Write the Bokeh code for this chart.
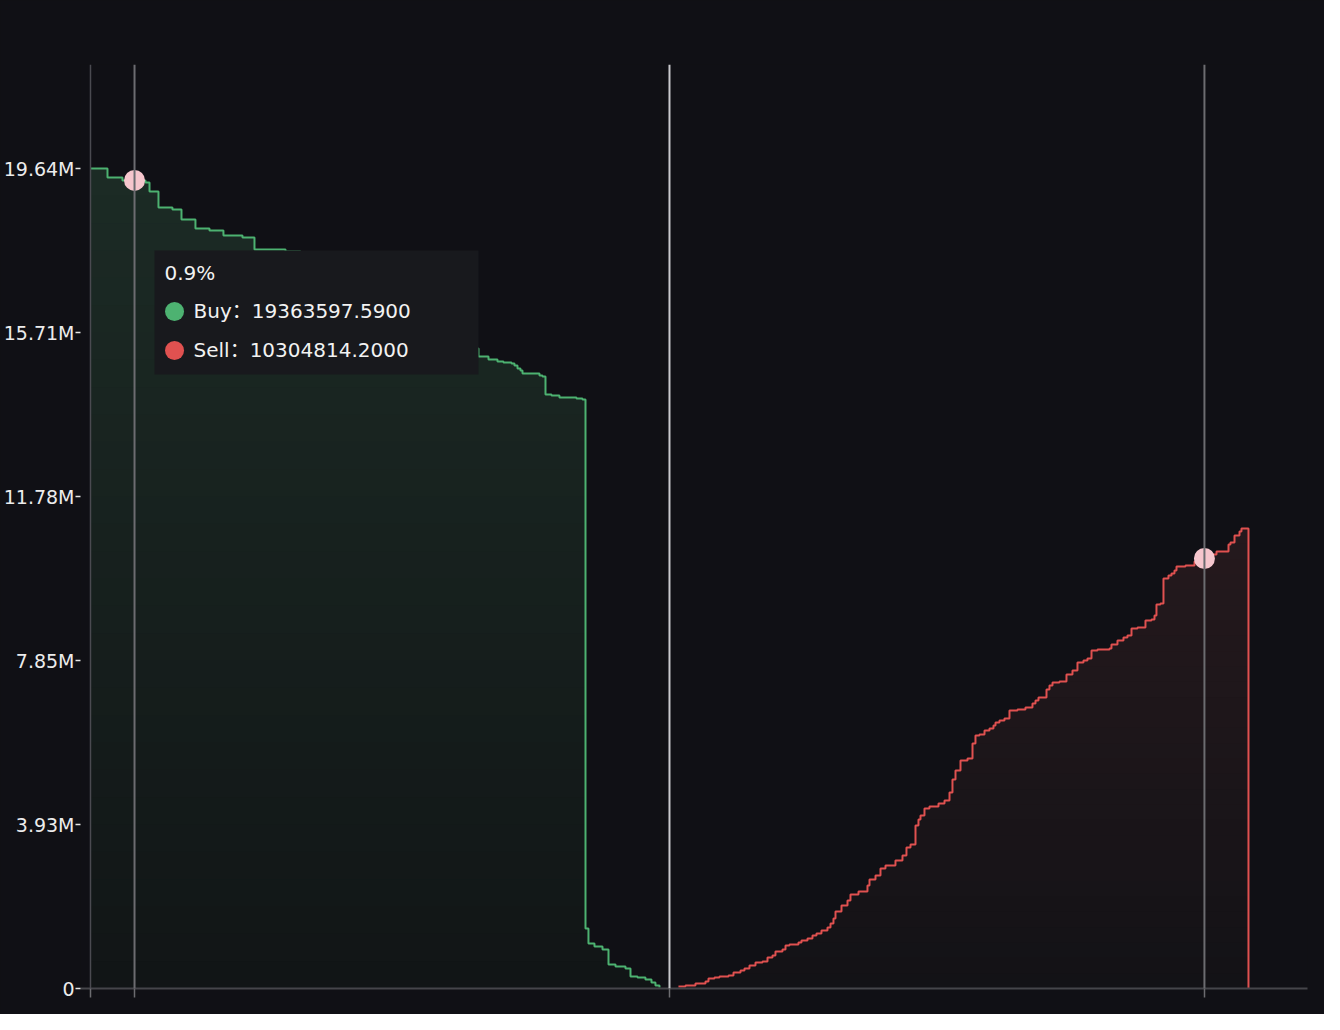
import numpy as np
from bokeh.plotting import figure
from bokeh.models import Range1d, Span, FixedTicker
from bokeh.core.properties import value
from bokeh.embed import file_html
from bokeh.resources import INLINE

# ---------------- data ----------------
# price offset from mid price (%) and cumulative depth (millions)
buy_pct = [-0.9741, -0.9455, -0.9203, -0.8816, -0.8748, -0.8597, -0.8362, -0.8210, -0.7975, -0.7739,
           -0.7504, -0.7184, -0.6982, -0.6460, -0.6208, -0.5973, -0.5703, -0.5468, -0.5199, -0.4929,
           -0.4660, -0.4391, -0.4122, -0.3853, -0.3617, -0.3382, -0.3213, -0.3045, -0.2894, -0.2793,
           -0.2658, -0.2608, -0.2557, -0.2507, -0.2473, -0.2187, -0.2137, -0.2086, -0.1985, -0.1851,
           -0.1565, -0.1464, -0.1413, -0.1363, -0.1262, -0.1127, -0.1026, -0.0908, -0.0740, -0.0656,
           -0.0538, -0.0404, -0.0303, -0.0236, -0.0168]
buy_depth = [19.650, 19.435, 19.36359759, 19.315, 19.099, 18.716, 18.668, 18.428, 18.213, 18.165,
             18.045, 17.997, 17.709, 17.661, 17.494, 17.374, 17.182, 17.038, 16.871, 16.655,
             16.463, 16.248, 16.032, 15.792, 15.553, 15.337, 15.145, 15.073, 15.025, 15.001,
             14.978, 14.930, 14.858, 14.810, 14.738, 14.690, 14.666, 14.235, 14.211, 14.163,
             14.139, 14.115, 1.438, 1.078, 1.006, 0.935, 0.575, 0.527, 0.479, 0.288,
             0.264, 0.216, 0.144, 0.072, 0.024]

sell_pct = [0.0151, 0.0269, 0.0437, 0.0606, 0.0656, 0.0757, 0.0841, 0.0993, 0.1077, 0.1195,
            0.1262, 0.1346, 0.1447, 0.1565, 0.1649, 0.1733, 0.1783, 0.1901, 0.1952, 0.2019,
            0.2170, 0.2221, 0.2322, 0.2406, 0.2473, 0.2557, 0.2658, 0.2709, 0.2759, 0.2793,
            0.2894, 0.2995, 0.3045, 0.3180, 0.3331, 0.3365, 0.3466, 0.3550, 0.3634, 0.3802,
            0.3920, 0.3987, 0.4055, 0.4139, 0.4189, 0.4223, 0.4290, 0.4374, 0.4526, 0.4627,
            0.4711, 0.4761, 0.4812, 0.4896, 0.5014, 0.5098, 0.5148, 0.5215, 0.5300, 0.5384,
            0.5451, 0.5485, 0.5552, 0.5636, 0.5720, 0.5855, 0.5989, 0.6107, 0.6158, 0.6208,
            0.6343, 0.6393, 0.6444, 0.6561, 0.6679, 0.6780, 0.6864, 0.6965, 0.7032, 0.7100,
            0.7201, 0.7403, 0.7436, 0.7537, 0.7638, 0.7705, 0.7773, 0.7874, 0.8008, 0.8109,
            0.8160, 0.8193, 0.8260, 0.8311, 0.8395, 0.8446, 0.8496, 0.8530, 0.8681, 0.8833,
            0.8917, 0.9018, 0.9203, 0.9405, 0.9438, 0.9506, 0.9590, 0.9623, 0.9741]
sell_depth = [0.048, 0.072, 0.120, 0.168, 0.240, 0.264, 0.288, 0.312, 0.383, 0.431,
              0.479, 0.551, 0.623, 0.647, 0.743, 0.791, 0.887, 0.935, 1.030, 1.054,
              1.102, 1.150, 1.198, 1.270, 1.318, 1.390, 1.462, 1.558, 1.677, 1.845,
              1.989, 2.109, 2.253, 2.325, 2.468, 2.612, 2.708, 2.876, 2.948, 3.067,
              3.187, 3.379, 3.451, 3.906, 4.050, 4.146, 4.314, 4.361, 4.433, 4.505,
              4.697, 5.008, 5.224, 5.464, 5.512, 5.871, 6.063, 6.087, 6.183, 6.231,
              6.303, 6.374, 6.422, 6.470, 6.662, 6.686, 6.734, 6.830, 6.902, 6.973,
              7.165, 7.261, 7.333, 7.357, 7.525, 7.621, 7.812, 7.860, 7.908, 8.100,
              8.124, 8.148, 8.243, 8.339, 8.411, 8.459, 8.627, 8.651, 8.819, 8.843,
              8.939, 9.202, 9.226, 9.825, 9.897, 9.945, 10.017, 10.113, 10.137, 10.233,
              10.3048142, 10.400, 10.472, 10.640, 10.688, 10.856, 10.952, 11.023, 0.0]

y_ticks = [0, 3.928, 7.856, 11.784, 15.712, 19.64]
y_tick_labels = ["0", "3.93M", "7.85M", "11.78M", "15.71M", "19.64M"]

hover_label = "0.9%"
hover_pct = 0.9
hover_buy = 19363597.59
hover_sell = 10304814.20

assert len(buy_pct) == len(buy_depth)
assert len(sell_pct) == len(sell_depth)

# ---------------- style ----------------
BG = "#101015"
GREEN = "#4db271"
RED = "#e05150"
FONT = value("'DejaVu Sans', 'Noto Sans CJK SC'")

X0, X1 = -0.9909, 1.0734
Y0, Y1 = 0.0, 22.142
FW, FH = 1227, 924

p = figure(frame_width=FW, frame_height=FH, x_range=Range1d(X0, X1), y_range=Range1d(Y0, Y1),
           output_backend="svg", toolbar_location=None,
           min_border_left=80, min_border_right=17, min_border_top=64, min_border_bottom=26)
p.background_fill_color = BG
p.border_fill_color = BG
p.outline_line_color = None
p.grid.visible = False
p.styles = {"background-color": BG}

pxx = (X1 - X0) / FW
pxy = (Y1 - Y0) / FH


def hexc(c):
    return "#%02x%02x%02x" % tuple(int(round(v)) for v in c)


def gradient_area(xs, ys, top_rgb, bot_rgb, n=30):
    ys = np.array(ys, dtype=float)
    top = ys.max()
    for k in range(n - 1, -1, -1):
        hi = top * (k + 1) / n
        t = (k + 0.5) / n
        col = [b + (a - b) * t for a, b in zip(top_rgb, bot_rgb)]
        p.varea_step(x=xs, y1=np.zeros_like(ys), y2=np.minimum(ys, hi), step_mode="after",
                     fill_color=hexc(col), fill_alpha=1.0)


gradient_area(buy_pct, buy_depth, (28, 43, 37), (17, 21, 22))
gradient_area(sell_pct, sell_depth, (37, 25, 29), (19, 18, 22))

# vertical guide lines
edge = buy_pct[0]
p.add_layout(Span(location=edge, dimension="height", line_color="#4a4a50", line_width=1.5))
p.add_layout(Span(location=-hover_pct, dimension="height", line_color="#6c6c70", line_width=2))
p.add_layout(Span(location=hover_pct, dimension="height", line_color="#6c6c70", line_width=2))
p.add_layout(Span(location=0, dimension="height", line_color="#c9c9cd", line_width=2))

p.step(buy_pct, buy_depth, mode="after", line_color=GREEN, line_width=2)
p.step(sell_pct, sell_depth, mode="after", line_color=RED, line_width=2)

# hover markers
hb = hover_buy / 1e6
hs = hover_sell / 1e6
p.scatter([-hover_pct, hover_pct], [hb, hs], size=21, fill_color="#f6c6cd", line_color=None)

# tooltip
tx = -hover_pct
p.quad(left=[tx + 20 * pxx], right=[tx + 344 * pxx], top=[hb - 70 * pxy], bottom=[hb - 194 * pxy],
       fill_color="#18191d", line_color=None)
p.text(x=[tx + 30 * pxx], y=[hb - 93 * pxy], text=[hover_label], text_font=FONT,
       text_font_size="20px", text_color="#f2f2f2", text_baseline="middle", text_align="left")
p.scatter([tx + 40 * pxx, tx + 40 * pxx], [hb - 131 * pxy, hb - 170 * pxy], size=19,
          fill_color=[GREEN, RED], line_color=None)
p.text(x=[tx + 59 * pxx, tx + 59 * pxx], y=[hb - 131 * pxy, hb - 170 * pxy],
       text=["Buy\uff1a%.4f" % hover_buy, "Sell\uff1a%.4f" % hover_sell], text_font=FONT,
       text_font_size="20px", text_color="#f2f2f2", text_baseline="middle", text_align="left")

# axes
xa = p.xaxis[0]
xa.ticker = FixedTicker(ticks=[edge, -hover_pct, 0, hover_pct])
xa.axis_line_color = "#45454a"
xa.axis_line_width = 2
xa.major_tick_line_color = "#6c6c70"
xa.major_tick_line_width = 1.5
xa.major_tick_out = 9
xa.major_tick_in = 0
xa.minor_tick_line_color = None
xa.major_label_text_font_size = "0px"
xa.major_label_text_color = None

ya = p.yaxis[0]
ya.ticker = FixedTicker(ticks=y_ticks)
ya.major_label_overrides = {float(t): lab for t, lab in zip(y_ticks, y_tick_labels)}
ya.axis_line_color = None
ya.major_tick_line_color = "#e6e6e6"
ya.major_tick_line_width = 1.5
ya.major_tick_out = 5
ya.major_tick_in = 0
ya.minor_tick_line_color = None
ya.major_label_standoff = 1
ya.major_label_text_font = "DejaVu Sans"
ya.major_label_text_font_size = "19px"
ya.major_label_text_color = "#ececec"

html = file_html(p, INLINE)
html = html.replace("<body>", '<body style="background:%s">' % BG, 1)
open("out.html", "w").write(html)
